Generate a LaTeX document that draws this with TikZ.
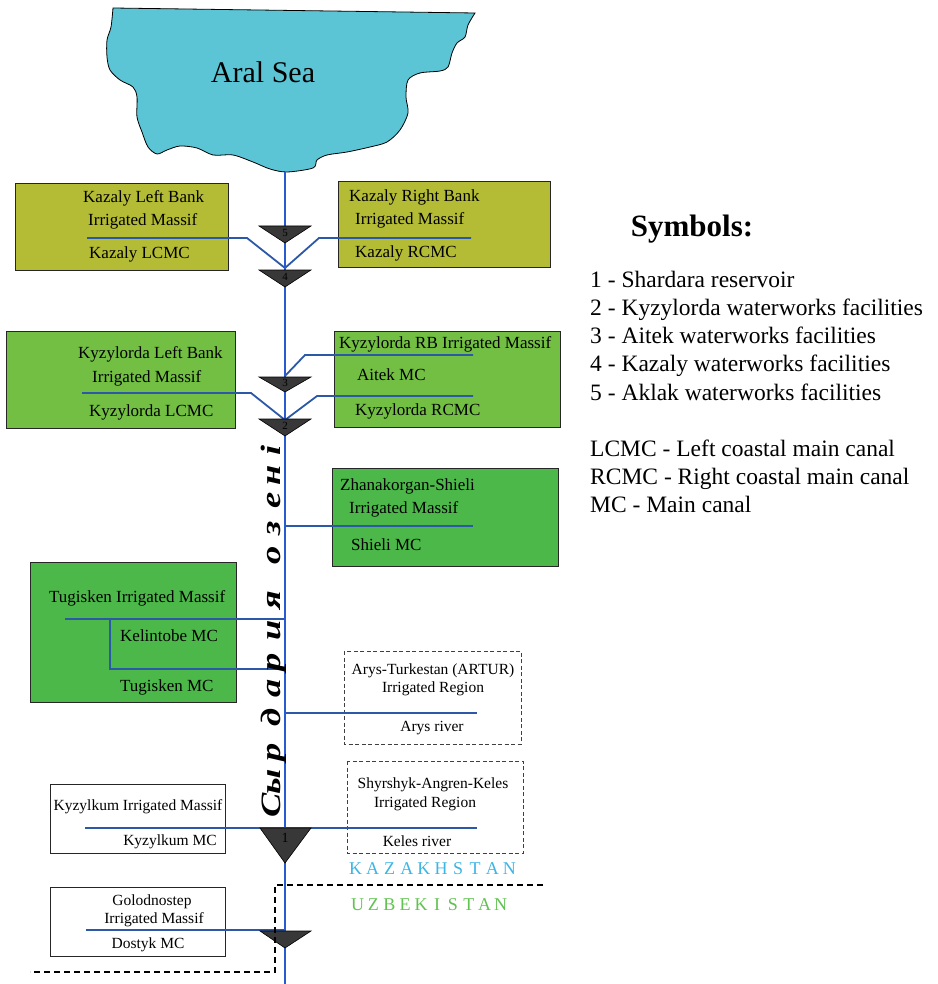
\documentclass[tikz,border=0pt]{standalone}
\usepackage{fontspec}
\setmainfont{Liberation Serif}
\usepackage{tikz}
\usetikzlibrary{positioning}
\definecolor{seablue}{RGB}{91,197,213}
\definecolor{kazolive}{RGB}{180,187,52}
\definecolor{kyzgreen}{RGB}{114,191,68}
\definecolor{midgreen}{RGB}{76,184,73}
\definecolor{canalblue}{RGB}{44,88,168}
\definecolor{riverblue}{RGB}{40,90,210}
\definecolor{kzcyan}{RGB}{60,181,230}
\definecolor{uzgreen}{RGB}{96,194,80}

\begin{document}
\begin{tikzpicture}[x=1pt,y=-1pt,
  box/.style={draw=black!85, line width=.9pt},
  regbox/.style={draw=black!75, line width=.8pt, dash pattern=on 4pt off 2.5pt},
  canal/.style={draw=canalblue, line width=1.8pt},
  river/.style={draw=riverblue, line width=1.2pt},
  gate/.style={draw=black, fill=black!78, line width=.6pt},
  gatenum/.style={font=\fontsize{11}{12}\selectfont, inner sep=0pt},
  bigtxt/.style={font=\fontsize{17}{20}\selectfont, anchor=west, inner sep=0pt, text height=.93em, text depth=.07em},
  smalltxt/.style={font=\fontsize{15.5}{18}\selectfont, inner sep=0pt, text height=.93em, text depth=.07em},
  legtxt/.style={font=\fontsize{23.5}{28}\selectfont, anchor=west, inner sep=0pt, text height=1em, text depth=.08em}]

\useasboundingbox (0,0) rectangle (937,984);

% Aral Sea
\draw[fill=seablue, line width=.8pt] (113,8) -- (475,13)
  -- plot[smooth, tension=.5] coordinates {(475,13) (468,25) (465,37) (457,43) (452,53)
  (448,67) (440,71) (420,73) (408,80) (406,97) (408,113) (400,130) (387,142) (370,147)
  (347,152) (327,155) (317,160) (313,168) (287,172) (270,169) (253,162) (233,155)
  (213,155) (197,148) (180,146) (167,150) (157,154) (148,147) (142,132) (137,117)
  (137,97) (133,87) (120,80) (110,70) (107,57) (107,40) (111,27) (113,8)} -- cycle;
\node[font=\fontsize{30}{34}\selectfont, inner sep=0pt] (aral) at (263,72) {Aral Sea};

% boxes
\draw[box, fill=kazolive] (15,183) rectangle (228,270);
\draw[box, fill=kazolive] (338,181) rectangle (550,267);
\draw[box, fill=kyzgreen] (6,331) rectangle (235,428);
\draw[box, fill=kyzgreen] (334,331) rectangle (560,427);
\draw[box, fill=midgreen] (332,468) rectangle (558,566);
\draw[box, fill=midgreen] (30,562) rectangle (236,702);
\draw[regbox] (344,651) rectangle (521,744);
\draw[regbox] (347,761) rectangle (523,853);
\draw[box] (50,784) rectangle (225,853);
\draw[box] (50,887) rectangle (225,956);

% box texts
\node[bigtxt] (kazl1) at (83,198) {Kazaly Left Bank};
\node[bigtxt] (kazl2) at (88,221) {Irrigated Massif};
\node[bigtxt] (kazl3) at (89,254) {Kazaly LCMC};
\node[bigtxt] (kazr1) at (349,197) {Kazaly Right Bank};
\node[bigtxt] (kazr2) at (355,220) {Irrigated Massif};
\node[bigtxt] (kazr3) at (355,253) {Kazaly RCMC};
\node[bigtxt] (kyzl1) at (78,354) {Kyzylorda Left Bank};
\node[bigtxt] (kyzl2) at (92,378) {Irrigated Massif};
\node[bigtxt] (kyzl3) at (89,412) {Kyzylorda LCMC};
\node[bigtxt] (kyzr1) at (339,344) {Kyzylorda RB Irrigated Massif};
\node[bigtxt] (kyzr2) at (357,376) {Aitek MC};
\node[bigtxt] (kyzr3) at (355,411) {Kyzylorda RCMC};
\node[bigtxt] (zha1) at (340,486) {Zhanakorgan-Shieli};
\node[bigtxt] (zha2) at (349,509) {Irrigated Massif};
\node[bigtxt] (zha3) at (351,546) {Shieli MC};
\node[bigtxt] (tug1) at (49,598) {Tugisken Irrigated Massif};
\node[bigtxt] (tug2) at (120,637) {Kelintobe MC};
\node[bigtxt] (tug3) at (120,687) {Tugisken MC};
\node[smalltxt] (ary1) at (433,670) {Arys-Turkestan (ARTUR)};
\node[smalltxt] (ary2) at (433,688) {Irrigated Region};
\node[smalltxt] (ary3) at (432,727) {Arys river};
\node[smalltxt] (shy1) at (433,784) {Shyrshyk-Angren-Keles};
\node[smalltxt] (shy2) at (425,803) {Irrigated Region};
\node[smalltxt] (shy3) at (417,842) {Keles river};
\node[smalltxt] (kum1) at (138,806) {Kyzylkum Irrigated Massif};
\node[smalltxt] (kum2) at (170,841) {Kyzylkum MC};
\node[smalltxt] (gol1) at (152,901) {Golodnostep};
\node[smalltxt] (gol2) at (154,919) {Irrigated Massif};
\node[smalltxt] (gol3) at (148,944) {Dostyk MC};

% river and canals
\coordinate (rtop) at (285,172);
\coordinate (rbot) at (285,984);
\coordinate (j4) at (285,268);
\coordinate (kl1) at (87,238);  \coordinate (kl2) at (247,238);
\coordinate (kr1) at (471,238); \coordinate (kr2) at (319,238);
\coordinate (j3) at (285,376);
\coordinate (ai1) at (473,355); \coordinate (ai2) at (305,355);
\coordinate (j2) at (285,420);
\coordinate (yl1) at (82,393);  \coordinate (yl2) at (251,393);
\coordinate (yr1) at (473,396); \coordinate (yr2) at (317,396);
\coordinate (j6) at (285,526);  \coordinate (sh1) at (473,526);
\coordinate (j7) at (285,619);  \coordinate (tg1) at (65,619);
\coordinate (tg2) at (110,619); \coordinate (tg3) at (110,669);
\coordinate (j8) at (285,669);
\coordinate (j9) at (285,713);  \coordinate (ar1) at (477,713);
\coordinate (kk1) at (85,828);  \coordinate (ke1) at (477,828);
\coordinate (ds1) at (86,930);  \coordinate (j10) at (285,930);

\draw[canal] (kl1) -- (kl2) -- (j4) -- (kr2) -- (kr1);
\draw[canal] (ai1) -- (ai2) -- (j3);
\draw[canal] (yl1) -- (yl2) -- (j2) -- (yr2) -- (yr1);
\draw[canal] (j6) -- (sh1);
\draw[canal] (tg1) -- (j7);
\draw[canal] (tg2) -- (tg3) -- (j8);
\draw[canal] (j9) -- (ar1);
\draw[canal] (kk1) -- (ke1);
\draw[canal] (ds1) -- (j10);
\draw[river] (rtop) -- (rbot);

% waterworks
\draw[gate] (259,226) -- (311,226) -- (285,243) -- cycle;
\node[gatenum] (g5) at (285,233) {5};
\draw[gate] (259,270) -- (311,270) -- (285,287) -- cycle;
\node[gatenum] (g4) at (285,277) {4};
\draw[gate] (259,377) -- (311,377) -- (285,392) -- cycle;
\node[gatenum] (g3) at (285,383) {3};
\draw[gate] (259,419) -- (311,419) -- (285,436) -- cycle;
\node[gatenum] (g2) at (285,426) {2};
\draw[gate] (260,828) -- (311,828) -- (285,863) -- cycle;
\node[gatenum, font=\fontsize{14}{15}\selectfont] (g1) at (285,838) {1};
\draw[gate] (260,931) -- (311,931) -- (285,948) -- cycle;

% river name
\foreach \ch/\yy [count=\k] in {С/805,ы/782,р/752,д/717,а/688,р/662,и/630,я/600,о/555,з/528,е/500,н/475,і/450}
  \node[rotate=90, anchor=base, inner sep=0pt, font=\fontsize{28}{30}\selectfont\bfseries\itshape]
    (sd\k) at (280,\yy) {\scalebox{1.3}[1]{\ch}};

% borders
\foreach \ch [count=\i] in {K,A,Z,A,K,H,S,T,A,N}
  \node[text=kzcyan, font=\fontsize{18}{20}\selectfont, inner sep=0pt] (kz\i) at (355.5+\i*17.1-17.1,869) {\ch};
\foreach \ch [count=\i] in {U,Z,B,E,K,I,S,T,A,N}
  \node[text=uzgreen, font=\fontsize{18}{20}\selectfont, inner sep=0pt] (uz\i) at (357.5+\i*15.9-15.9,905) {\ch};
\coordinate (bd1) at (543,885);
\coordinate (bd2) at (275,885);
\coordinate (bd3) at (275,972);
\coordinate (bd4) at (30,972);
\draw[line width=1.8pt, dash pattern=on 6pt off 4pt] (bd1) -- (bd2) -- (bd3) -- (bd4);

% legend
\node[font=\fontsize{31}{34}\selectfont\bfseries, inner sep=0pt] (sym) at (692,229) {Symbols:};
\node[legtxt] (l1) at (590,283) {1 - Shardara reservoir};
\node[legtxt] (l2) at (590,311) {2 - Kyzylorda waterworks facilities};
\node[legtxt] (l3) at (590,339) {3 - Aitek waterworks facilities};
\node[legtxt] (l4) at (590,367) {4 - Kazaly waterworks facilities};
\node[legtxt] (l5) at (590,396) {5 - Aklak waterworks facilities};
\node[legtxt] (l6) at (590,452) {LCMC - Left coastal main canal};
\node[legtxt] (l7) at (590,480) {RCMC - Right coastal main canal};
\node[legtxt] (l8) at (590,508) {MC - Main canal};
\end{tikzpicture}
\end{document}
